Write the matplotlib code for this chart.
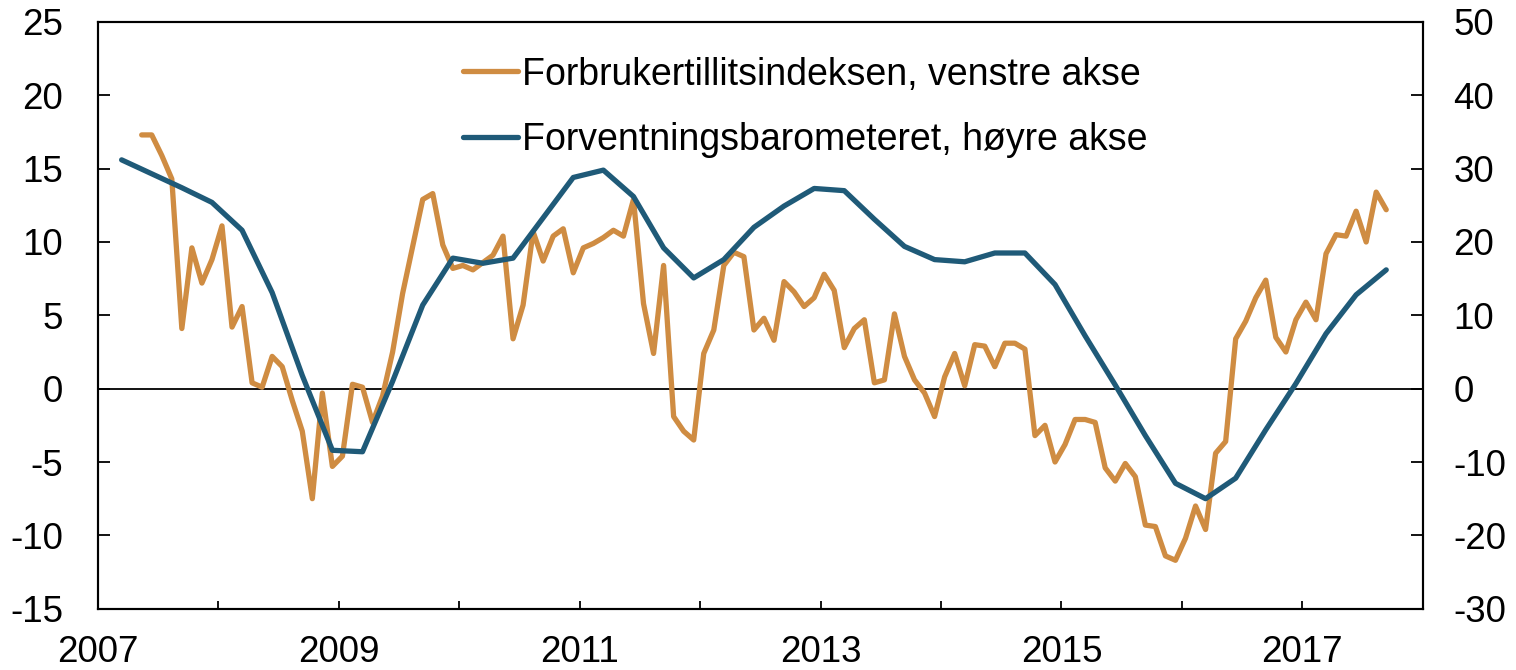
import numpy as np
import matplotlib
matplotlib.use('Agg')
import matplotlib.pyplot as plt
from matplotlib.ticker import FixedLocator

plt.rcParams['font.family'] = ['Liberation Sans', 'DejaVu Sans']
plt.rcParams['axes.unicode_minus'] = False

# Forbrukertillitsindeksen (monthly, May 2007 - Sep 2017), left axis
forbruker = [
    17.3, 17.3, 15.9, 14.3, 4.1, 9.6, 7.2, 8.8, 11.1, 4.2, 5.6, 0.4,
    0.1, 2.2, 1.5, -0.8, -2.9, -7.5, -0.3, -5.3, -4.6, 0.3, 0.1, -2.3,
    -0.5, 2.5, 6.5, 9.7, 12.9, 13.3, 9.8, 8.2, 8.4, 8.1, 8.6, 9.1,
    10.4, 3.4, 5.7, 10.7, 8.7, 10.4, 10.9, 7.9, 9.6, 9.9, 10.3, 10.8,
    10.4, 12.9, 5.8, 2.4, 8.4, -1.9, -2.9, -3.5, 2.4, 4.0, 8.4, 9.3,
    9.0, 4.0, 4.8, 3.3, 7.3, 6.6, 5.6, 6.2, 7.8, 6.7, 2.8, 4.1,
    4.7, 0.4, 0.6, 5.1, 2.2, 0.6, -0.3, -1.9, 0.8, 2.4, 0.2, 3.0,
    2.9, 1.5, 3.1, 3.1, 2.7, -3.2, -2.5, -5.0, -3.8, -2.1, -2.1, -2.3,
    -5.4, -6.3, -5.1, -6.0, -9.3, -9.4, -11.4, -11.7, -10.2, -8.0, -9.6, -4.4,
    -3.6, 3.4, 4.6, 6.2, 7.4, 3.5, 2.5, 4.7, 5.9, 4.7, 9.2, 10.5,
    10.4, 12.1, 10.0, 13.4, 12.2,
]
forbruker_start_month = 4  # May 2007 (0 = Jan 2007)

# Forventningsbarometeret (quarterly, Q1 2007 - Q3 2017), right axis
barometer = [
    31.2, 29.3, 27.4, 25.4, 21.6, 13.1, 1.8, -8.4, -8.6, 1.0, 11.4, 17.8,
    17.1, 17.8, 23.3, 28.8, 29.8, 26.2, 19.2, 15.1, 17.6, 22.0, 24.9, 27.3,
    27.0, 23.1, 19.4, 17.6, 17.3, 18.5, 18.5, 14.2, 7.2, 0.5, -6.4, -12.9,
    -15.0, -12.2, -5.6, 0.7, 7.5, 12.8, 16.2,
]
barometer_start_month = 2  # March 2007, end of quarter

label_forbruker = 'Forbrukertillitsindeksen, venstre akse'
label_barometer = 'Forventningsbarometeret, høyre akse'
year_labels = ['2007', '', '2009', '', '2011', '', '2013', '', '2015', '', '2017', '']

ORANGE = '#CF8C42'
BLUE = '#1F5A78'
FS = 26.5

m1 = forbruker_start_month + np.arange(len(forbruker))
x1 = 2007 + (m1 + 0.36) / 12.0
m2 = barometer_start_month + 3 * np.arange(len(barometer))
x2 = 2007 + (m2 + 0.36) / 12.0

fig = plt.figure(figsize=(15.16, 6.70), dpi=100)
ax = fig.add_axes([0.0646, 0.0915, 0.8739, 0.8757])
ax2 = ax.twinx()

ax.axhline(0, color='black', lw=1.3, zorder=1)
l1, = ax.plot(x1, forbruker, color=ORANGE, lw=3.8, solid_joinstyle='round',
              solid_capstyle='round', zorder=3)
l2, = ax2.plot(x2, barometer, color=BLUE, lw=3.8, solid_joinstyle='round',
               solid_capstyle='round', zorder=3)

ax.set_xlim(2007, 2018)
ax.set_ylim(-15, 25)
ax2.set_ylim(-30, 50)
ax.set_yticks(np.arange(-15, 26, 5))
ax2.set_yticks(np.arange(-30, 51, 10))
ax.xaxis.set_major_locator(FixedLocator(np.arange(2007, 2019)))
ax.set_xticklabels(year_labels)

for a in (ax, ax2):
    for s in a.spines.values():
        s.set_linewidth(1.5)
        s.set_color('black')
ax.tick_params(axis='y', direction='in', length=8.5, width=1.3, pad=25, labelsize=FS)
ax2.tick_params(axis='y', direction='in', length=8.5, width=1.3, pad=22, labelsize=FS)
ax.tick_params(axis='x', direction='in', length=6, width=1.3, pad=19, labelsize=FS)

leg = ax2.legend([l1, l2], [label_forbruker, label_barometer], loc='upper left',
                 bbox_to_anchor=(0.2756, 0.941), frameon=False, fontsize=27,
                 handlelength=1.47, handletextpad=0.1, labelspacing=0.78,
                 borderpad=0, borderaxespad=0)

fig.savefig('out.png', dpi=100)
